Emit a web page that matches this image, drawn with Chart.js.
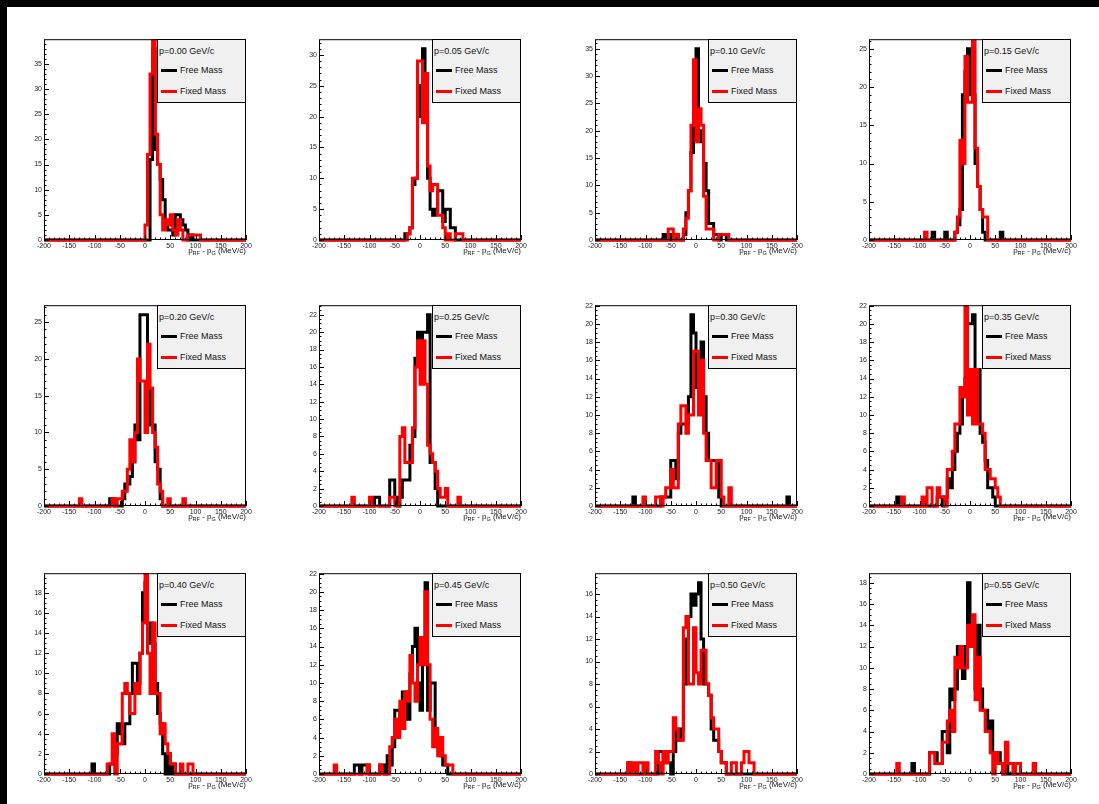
<!DOCTYPE html>
<html>
<head>
<meta charset="utf-8">
<script src="https://cdn.jsdelivr.net/npm/chart.js@4.4.0/dist/chart.umd.min.js"></script>
<style>
  body { margin:0; width:1099px; height:804px; overflow:hidden; position:relative; background:#000;
         font-family:"Liberation Sans", Arial, Helvetica, sans-serif; }
  #page { position:absolute; left:7px; top:7px; width:1092px; height:797px; background:#fff; }
  canvas { position:absolute; }
  .leg { position:absolute; width:89px; height:64px; box-sizing:border-box; border:1px solid #000;
         background:#f0f0f0; color:#111; font-size:9px; }
  .leg .t { position:absolute; left:1px; top:6px; white-space:nowrap; }
  .leg .s { position:absolute; left:3px; width:16px; height:3px; }
  .leg .l { position:absolute; left:22px; white-space:nowrap; }
  .xt { position:absolute; font-size:8px; line-height:9px; color:#111; white-space:nowrap; text-align:right; }
  .xt sub { font-size:5.5px; vertical-align:-2px; }
</style>
</head>
<body>
<div id="page"></div>
<script>
// bin width 5 MeV/c, axis -200..200; each series starts at the given lower bin edge
const momenta = ['0.00', '0.05', '0.10', '0.15', '0.20', '0.25', '0.30', '0.35', '0.40', '0.45', '0.50', '0.55'];
const xTicks = [-200, -150, -100, -50, 0, 50, 100, 150, 200];

// p = 0.00
const free000Lo = 10;
const free000 = [16,38,18,15,12,8,3,2,2,1,5,5,4,3,2,0,1];
const fixed000Lo = 0;
const fixed000 = [3,17,33,40,21,15,5,2,4,3,5,2,1,4,2,0,0,1,1,1,1,1];
// p = 0.05
const free005Lo = -30;
const free005 = [1,1,2,9,10,25,20,31,21,10,5,4,5,8,8,3,5,5,2,2];
const fixed005Lo = -25;
const fixed005 = [1,2,10,10,29,29,19,27,12,8,9,9,4,4,2,0,1,0,0,1,1,1];
// p = 0.10
const free010Lo = -65;
const free010 = [1,0,0,1,0,1,0,0,1,5,9,16,24,35,20,18,14,9,3,3,1,1,0,1,1];
const fixed010Lo = -55;
const fixed010 = [2,2,0,1,0,0,2,4,9,21,33,18,24,21,8,2,2,2,0,0,1,1,1,1];
// p = 0.15
const free015Lo = -75;
const free015 = [1,0,0,0,0,1,0,0,0,1,2,4,19,22,25,19,19,10,7,4,1,0,0,0,0,0,0,1];
const fixed015Lo = -90;
const fixed015 = [1,0,0,0,0,0,0,0,0,0,0,0,1,3,13,10,24,18,18,26,12,7,4,3,3];
// p = 0.20
const free020Lo = -70;
const free020 = [1,1,0,0,0,1,3,3,4,6,11,9,26,26,26,11,16,11,6,5,1];
const fixed020Lo = -130;
const fixed020 = [1,0,0,0,0,0,0,0,0,0,0,0,0,
                  1,0,1,1,2,2,5,9,6,10,20,17,17,10,22,16,10,8,3,2,0,0,1,0,0,0,0,0,1];
// p = 0.25
const free025Lo = -90;
const free025 = [1,1,0,0,0,0,3,3,1,0,1,3,3,3,7,8,17,20,16,20,20,22,5,5,2];
const fixed025Lo = -135;
const fixed025 = [1,0,0,0,0,0,0,1,0,0,0,0,0,0,0,
                  1,1,0,0,8,9,5,5,5,9,16,19,14,19,14,7,6,5,4,2,1,1,2,0,0,0,0,1];
// p = 0.30
const free030Lo = -125;
const free030 = [1,0,0,0,0,0,0,0,0,0,0,
                 1,1,1,1,5,5,3,8,9,9,9,12,21,19,13,11,18,12,8,5,5,5,5,1,
                 0,0,0,0,0,0,0,0,0,0,0,0,0,0,0,0,0,0,0,0,0,0,0,0,0,0,1];
const fixed030Lo = -105;
const fixed030 = [1,0,0,0,0,
                  1,1,0,1,2,2,4,2,2,9,11,11,8,10,10,17,17,10,16,8,5,5,2,2,5,5,1,0,0,2];
// p = 0.35
const free035Lo = -145;
const free035 = [1,0,0,0,0,0,0,0,0,0,0,0,0,0,0,0,
                 1,1,0,1,3,2,4,6,8,9,12,14,20,20,21,15,15,8,7,5,2,2,1];
const fixed035Lo = -135;
const fixed035 = [1,0,0,0,0,0,0,0,
                  1,0,2,2,0,0,2,1,1,0,4,4,6,9,9,13,12,22,10,15,9,15,9,9,8,4,4,3,3,2,1];
// p = 0.40
const free040Lo = -105;
const free040 = [1,0,0,0,0,0,0,
                 1,1,2,5,4,3,5,5,8,11,11,9,12,18,19,13,15,13,9,6,5,2,0,2,0,1];
const fixed040Lo = -75;
const fixed040 = [1,1,4,0,3,3,8,9,8,6,6,9,8,12,15,20,12,8,15,8,8,4,5,3,2,1,1,0,0,1,0,0,1,1];
// p = 0.45
const free045Lo = -130;
const free045 = [1,1,0,1,1,1,0,0,0,0,1,1,0,2,1,3,7,7,5,9,9,6,11,14,16,10,7,13,21,7,10,10,4,3,2,1,1];
const fixed045Lo = -170;
const fixed045 = [1,0,0,0,0,0,0,0,0,0,0,0,0,1,0,0,0,0,1,0,0,0,
                  3,4,6,4,8,5,9,8,13,10,8,12,15,12,20,12,6,3,5,2,4,2,1,1,1];
// p = 0.50
const free050Lo = -135;
const free050 = [1,0,0,0,0,0,0,0,0,0,0,0,
                 2,2,1,1,1,0,2,4,3,4,8,12,14,16,15,16,17,12,8,8,7,4,3,3,2,1,1];
const fixed050Lo = -135;
const fixed050 = [1,0,1,0,1,1,0,1,0,0,0,2,1,0,2,1,2,2,5,4,3,3,13,14,8,8,13,9,8,11,
                  11,8,7,5,4,4,2,1,1,0,0,1,1,0,0,1,2,2,1,1];
// p = 0.55
const free055Lo = -115;
const free055 = [1,0,0,0,0,0,0,
                 2,2,2,1,1,4,4,2,8,7,8,12,10,9,12,18,14,13,8,14,8,6,6,4,5,2,1,2,1,0,1];
const fixed055Lo = -145;
const fixed055 = [1,0,0,0,0,0,0,0,0,0,0,0,0,
                  2,2,1,1,1,3,3,5,6,4,11,10,12,10,10,14,12,15,7,11,6,6,4,4,2,0,2,1,1,0,3,1,1,0,1,1,0,0,0,0,0,1];

const freeSeries = [[free000Lo, free000], [free005Lo, free005], [free010Lo, free010], [free015Lo, free015],
                    [free020Lo, free020], [free025Lo, free025], [free030Lo, free030], [free035Lo, free035],
                    [free040Lo, free040], [free045Lo, free045], [free050Lo, free050], [free055Lo, free055]];
const fixedSeries = [[fixed000Lo, fixed000], [fixed005Lo, fixed005], [fixed010Lo, fixed010], [fixed015Lo, fixed015],
                     [fixed020Lo, fixed020], [fixed025Lo, fixed025], [fixed030Lo, fixed030], [fixed035Lo, fixed035],
                     [fixed040Lo, fixed040], [fixed045Lo, fixed045], [fixed050Lo, fixed050], [fixed055Lo, fixed055]];

// layout of the 3x4 grid (plot frames)
const colX = [44, 319, 595, 869];
const rowY = [39, 305, 573];
const W = 202, H = 201;
const FONT = '"Liberation Sans", Arial, Helvetica, sans-serif';

// histogram outline: one point per lower bin edge, stepped
function toPoints(lo, counts) {
  const pts = [];
  for (let i = 0; i < 80; i++) {
    const x = -200 + 5 * i;
    const k = Math.round((x - lo) / 5);
    pts.push({x: x, y: (k >= 0 && k < counts.length) ? counts[k] : 0});
  }
  pts.push({x: 200, y: pts[79].y});
  return pts;
}

// frame + inward ROOT-style tick marks, drawn over the histograms
const frameTicks = {
  id: 'frameTicks',
  afterDatasetsDraw(chart) {
    const ctx = chart.ctx, a = chart.chartArea, x = chart.scales.x, y = chart.scales.y;
    ctx.save();
    ctx.strokeStyle = '#000';
    ctx.lineWidth = 1;
    ctx.beginPath();
    for (let v = -200; v <= 200; v += 10) {
      const px = Math.round(x.getPixelForValue(v)) + 0.5;
      const len = (v % 50 === 0) ? 5 : 2.5;
      ctx.moveTo(px, a.bottom);
      ctx.lineTo(px, a.bottom - len);
    }
    const step = y.options.ticks.stepSize;
    const minor = step === 5 ? 1 : 0.5;
    for (let j = 0; j * minor <= y.max; j++) {
      const v = j * minor;
      const py = Math.round(y.getPixelForValue(v)) + 0.5;
      const major = Math.abs(v / step - Math.round(v / step)) < 1e-6;
      ctx.moveTo(a.left, py);
      ctx.lineTo(a.left + (major ? 5 : 2.5), py);
    }
    ctx.stroke();
    ctx.strokeRect(a.left + 0.5, a.top + 0.5, a.right - a.left - 1, a.bottom - a.top - 1);
    ctx.restore();
  }
};

momenta.forEach(function(p, n) {
  const px = colX[n % 4], py = rowY[Math.floor(n / 4)];
  const free = freeSeries[n], fixed = fixedSeries[n];
  const ymax = Math.max.apply(null, free[1]) * 1.05;
  const step = ymax > 25 ? 5 : 2;

  const cv = document.createElement('canvas');
  cv.width = W + 42; cv.height = H + 28;
  cv.style.left = (px - 30) + 'px';
  cv.style.top = (py - 6) + 'px';
  document.body.appendChild(cv);

  new Chart(cv, {
    type: 'line',
    data: {
      datasets: [
        { label: 'Fixed Mass', data: toPoints(fixed[0], fixed[1]), borderColor: '#ff0000', borderWidth: 3,
          stepped: 'before', pointRadius: 0, fill: false, order: 1, borderJoinStyle: 'miter',
          clip: {left: 2, right: 2, top: 0, bottom: 3} },
        { label: 'Free Mass', data: toPoints(free[0], free[1]), borderColor: '#000000', borderWidth: 3,
          stepped: 'before', pointRadius: 0, fill: false, order: 2, borderJoinStyle: 'miter',
          clip: {left: 2, right: 2, top: 0, bottom: 3} }
      ]
    },
    options: {
      animation: false, responsive: false, devicePixelRatio: 1,
      layout: { padding: {top: 6, right: 12, left: 0, bottom: 0} },
      plugins: { legend: {display: false}, tooltip: {enabled: false} },
      scales: {
        x: { type: 'linear', min: -200, max: 200,
             afterFit: function(s) { s.height = 22; },
             afterBuildTicks: function(s) { s.ticks = xTicks.map(function(v) { return {value: v}; }); },
             grid: {display: false, drawTicks: false}, border: {display: false},
             ticks: {autoSkip: false, maxRotation: 0, padding: 2, color: '#222', font: {size: 7, family: FONT}} },
        y: { type: 'linear', min: 0, max: ymax,
             afterFit: function(s) { s.width = 30; },
             grid: {display: false, drawTicks: false}, border: {display: false},
             ticks: {stepSize: step, includeBounds: false, padding: 2, color: '#222', font: {size: 7, family: FONT}} }
      }
    },
    plugins: [frameTicks]
  });

  // legend box
  const leg = document.createElement('div');
  leg.className = 'leg';
  leg.style.left = (px + W - 89) + 'px';
  leg.style.top = py + 'px';
  leg.innerHTML = '<div class="t">p=' + p + ' GeV/c</div>' +
    '<div class="s" style="top:29px;background:#000"></div><div class="l" style="top:25px">Free Mass</div>' +
    '<div class="s" style="top:50px;background:#f00"></div><div class="l" style="top:46px">Fixed Mass</div>';
  document.body.appendChild(leg);

  // x axis title
  const xt = document.createElement('div');
  xt.className = 'xt';
  xt.style.left = (px + W - 80) + 'px';
  xt.style.width = '80px';
  xt.style.top = (py + H + 6) + 'px';
  xt.innerHTML = 'p<sub>RF</sub> - p<sub>G</sub> (MeV/c)';
  document.body.appendChild(xt);
});
</script>
</body>
</html>
